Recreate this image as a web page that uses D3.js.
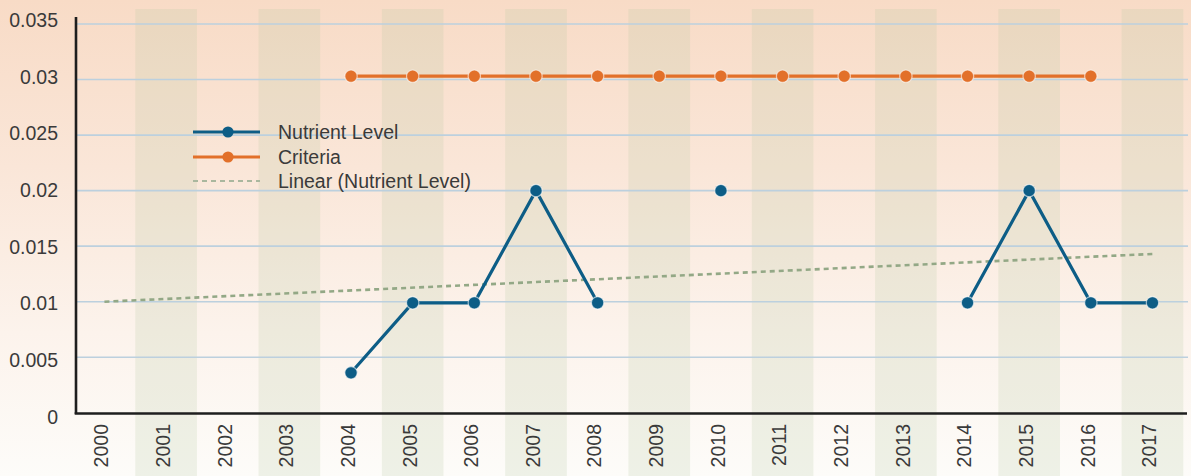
<!DOCTYPE html>
<html>
<head>
<meta charset="utf-8">
<script src="https://cdn.jsdelivr.net/npm/d3@7"></script>
<style>
  html, body { margin: 0; padding: 0; overflow: hidden; }
  svg { display: block; font-family: "Liberation Sans", Arial, sans-serif; }
</style>
</head>
<body>
<div id="chart"></div>
<script>
// data
var years = ["2000", "2001", "2002", "2003", "2004", "2005", "2006", "2007", "2008",
  "2009", "2010", "2011", "2012", "2013", "2014", "2015", "2016", "2017"];
var nutrientLevel = [null, null, null, null, 0.0036, 0.0099, 0.0099, 0.02, 0.0099,
  null, 0.02, null, null, null, 0.0099, 0.02, 0.0099, 0.0099];
var criteria = [null, null, null, null, 0.0303, 0.0303, 0.0303, 0.0303, 0.0303,
  0.0303, 0.0303, 0.0303, 0.0303, 0.0303, 0.0303, 0.0303, 0.0303, null];
var trendYears = ["2000", "2017"];
var trendValues = [0.0100, 0.0143];
var yTicks = [0, 0.005, 0.01, 0.015, 0.02, 0.025, 0.03, 0.035];
var yTickLabels = ["0", "0.005", "0.01", "0.015", "0.02", "0.025", "0.03", "0.035"];
var legendNames = ["Nutrient Level", "Criteria", "Linear (Nutrient Level)"];

var svgWidth = 1191;
var svgHeight = 476;

var blue = "#0d5d86";
var orange = "#e2702a";
var trendColor = "#93a886";
var textColor = "#3a3a3a";

var svg = d3.select("#chart")
  .append("svg")
  .attr("width", svgWidth)
  .attr("height", svgHeight);

// background gradient, peach at top fading to white
var defs = svg.append("defs");
var grad = defs.append("linearGradient")
  .attr("id", "bg")
  .attr("x1", 0).attr("y1", 0).attr("x2", 0).attr("y2", 1);
grad.append("stop").attr("offset", "0%").attr("stop-color", "#f8dbc6");
grad.append("stop").attr("offset", "35%").attr("stop-color", "#fae6d8");
grad.append("stop").attr("offset", "70%").attr("stop-color", "#fcf3ec");
grad.append("stop").attr("offset", "100%").attr("stop-color", "#fdfcf9");

svg.append("rect")
  .attr("width", svgWidth)
  .attr("height", svgHeight)
  .attr("fill", "url(#bg)");

// scales
var x = d3.scaleBand()
  .domain(years)
  .range([73.6, 1183.3])
  .padding(0);

var y = d3.scaleLinear()
  .domain([0, 0.035])
  .range([412.8, 24]);

// tick labels in the picture sit on a slightly wider spacing
var yLabel = d3.scaleLinear()
  .domain([0, 0.035])
  .range([417, 20]);

var cx = d => x(d) + x.bandwidth() / 2;

// alternate column bands
svg.append("g")
  .selectAll("rect")
  .data(years.filter((d, i) => i % 2 === 1))
  .enter()
  .append("rect")
  .attr("x", d => x(d))
  .attr("y", 9)
  .attr("width", x.bandwidth())
  .attr("height", svgHeight - 9)
  .attr("fill", "rgb(178,198,162)")
  .attr("opacity", 0.2);

// gridlines
svg.append("g")
  .selectAll("line")
  .data(yTicks.filter(d => d > 0))
  .enter()
  .append("line")
  .attr("x1", 76)
  .attr("x2", 1188)
  .attr("y1", d => y(d))
  .attr("y2", d => y(d))
  .attr("stroke", "#bcd0de")
  .attr("stroke-width", 1.6);

// y tick labels
svg.append("g")
  .selectAll("text")
  .data(yTicks)
  .enter()
  .append("text")
  .attr("x", 58)
  .attr("y", d => yLabel(d))
  .attr("dy", "0.35em")
  .attr("text-anchor", "end")
  .attr("font-size", "19.5px")
  .attr("fill", textColor)
  .text((d, i) => yTickLabels[i]);

// x tick labels, rotated
svg.append("g")
  .selectAll("text")
  .data(years)
  .enter()
  .append("text")
  .attr("transform", d => `translate(${cx(d) - 3}, 424) rotate(-90)`)
  .attr("dy", "0.35em")
  .attr("text-anchor", "end")
  .attr("font-size", "19.5px")
  .attr("fill", textColor)
  .text(d => d);

// trend line
var trendLine = d3.line()
  .x(d => cx(d[0]))
  .y(d => y(d[1]));

svg.append("path")
  .datum(trendYears.map((d, i) => [d, trendValues[i]]))
  .attr("d", trendLine)
  .attr("fill", "none")
  .attr("stroke", trendColor)
  .attr("stroke-width", 2.6)
  .attr("stroke-dasharray", "5,4");

// series lines with gaps for missing years
var seriesLine = d3.line()
  .defined(d => d[1] !== null)
  .x(d => cx(d[0]))
  .y(d => y(d[1]));

function drawSeries(values, color) {
  var pts = years.map((d, i) => [d, values[i]]);

  svg.append("path")
    .datum(pts)
    .attr("d", seriesLine)
    .attr("fill", "none")
    .attr("stroke", color)
    .attr("stroke-width", 3.2);

  svg.append("g")
    .selectAll("circle")
    .data(pts.filter(d => d[1] !== null))
    .enter()
    .append("circle")
    .attr("cx", d => cx(d[0]))
    .attr("cy", d => y(d[1]))
    .attr("r", 6.2)
    .attr("fill", color)
    .attr("stroke", "rgba(255,255,255,0.6)")
    .attr("stroke-width", 1.2);
}

drawSeries(criteria, orange);
drawSeries(nutrientLevel, blue);

// axes lines
svg.append("line")
  .attr("x1", 76).attr("x2", 76)
  .attr("y1", 17).attr("y2", 414)
  .attr("stroke", "#1e1e1e")
  .attr("stroke-width", 2.6);

svg.append("line")
  .attr("x1", 74.7).attr("x2", 1187)
  .attr("y1", 413.5).attr("y2", 413.5)
  .attr("stroke", "#1e1e1e")
  .attr("stroke-width", 2.6);

// legend
var legend = svg.append("g");
var legendColors = [blue, orange, trendColor];
var legendY = [132, 157, 181];

legendNames.forEach((name, i) => {
  var row = legend.append("g")
    .attr("transform", `translate(0, ${legendY[i]})`);

  row.append("line")
    .attr("x1", 193).attr("x2", 260)
    .attr("y1", 0).attr("y2", 0)
    .attr("stroke", i === 2 ? "#aab79e" : legendColors[i])
    .attr("stroke-width", i === 2 ? 2.2 : 3.2)
    .attr("stroke-dasharray", i === 2 ? "5,4" : null);

  if (i < 2) {
    row.append("circle")
      .attr("cx", 228)
      .attr("cy", 0)
      .attr("r", 5.6)
      .attr("fill", legendColors[i]);
  }

  row.append("text")
    .attr("x", 278)
    .attr("y", 0)
    .attr("dy", "0.35em")
    .attr("font-size", "19.5px")
    .attr("fill", textColor)
    .text(name);
});
</script>
</body>
</html>
